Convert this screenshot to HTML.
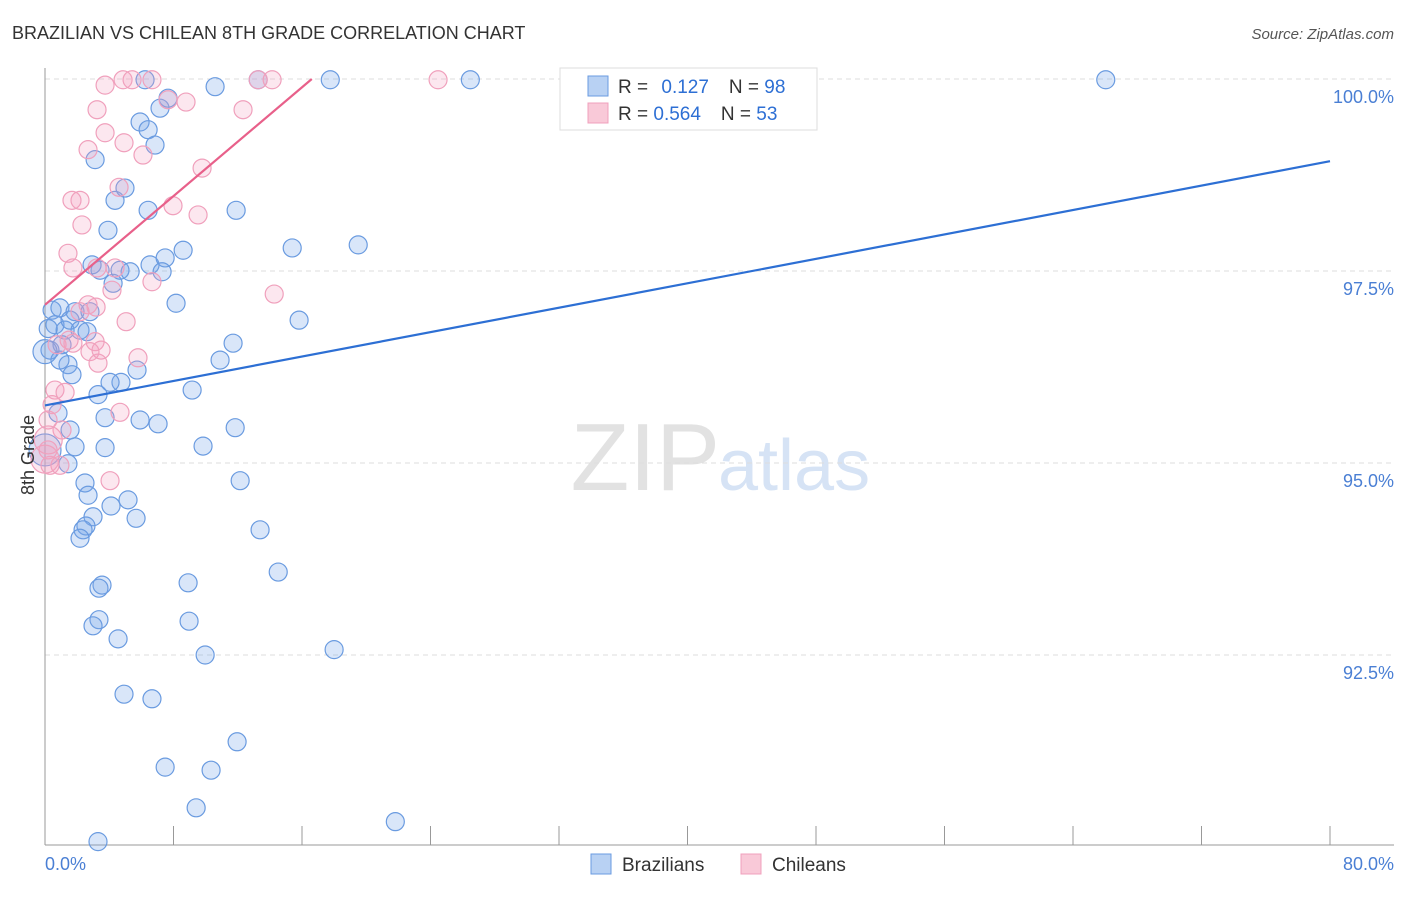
<!DOCTYPE html>
<html><head><meta charset="utf-8"><style>
body{margin:0;background:#fff;font-family:"Liberation Sans",sans-serif;}
svg text{font-family:"Liberation Sans",sans-serif;}
</style></head><body>
<svg id="chart" width="1406" height="892" xmlns="http://www.w3.org/2000/svg">
<text x="12" y="39" font-size="18" fill="#333">BRAZILIAN VS CHILEAN 8TH GRADE CORRELATION CHART</text>
<text x="1394" y="39" font-size="15" fill="#555" font-style="italic" text-anchor="end">Source: ZipAtlas.com</text>
<text x="720" y="490" font-size="96" fill="#e2e2e2" font-family="Liberation Serif" text-anchor="end">ZIP</text>
<text x="718" y="490" font-size="72" fill="#d6e3f5">atlas</text>
<g id="grid"></g><g id="axes"></g><g id="pts"></g><g id="lines"></g>
<text x="34" y="455" font-size="18" fill="#333" transform="rotate(-90 34 455)" text-anchor="middle">8th Grade</text>
<text x="45" y="870" font-size="18" fill="#4a7fd4">0.0%</text>
<text x="1394" y="870" font-size="18" fill="#4a7fd4" text-anchor="end">80.0%</text>
<g>
<rect x="560" y="68" width="257" height="62" fill="#fff" stroke="#ddd"/>
<rect x="588" y="76" width="20" height="20" fill="#b8d1f3" stroke="#6a9be0"/>
<rect x="588" y="103" width="20" height="20" fill="#f9c9d8" stroke="#f0a0bc"/>
<text x="618" y="93" font-size="19" fill="#333">R = <tspan fill="#2d6fd4" dx="8">0.127</tspan><tspan dx="20">N = </tspan><tspan fill="#2d6fd4">98</tspan></text>
<text x="618" y="120" font-size="19" fill="#333">R = <tspan fill="#2d6fd4">0.564</tspan><tspan dx="20">N = </tspan><tspan fill="#2d6fd4">53</tspan></text>
</g>
<g>
<rect x="591" y="854" width="20" height="20" fill="#b8d1f3" stroke="#6a9be0"/>
<text x="622" y="871" font-size="19" fill="#333">Brazilians</text>
<rect x="741" y="854" width="20" height="20" fill="#f9c9d8" stroke="#f0a0bc"/>
<text x="772" y="871" font-size="19" fill="#333">Chileans</text>
</g>
</svg>
<script>
const yTicks=[100,97.5,95,92.5];
const yTickLabels=["100.0%","97.5%","95.0%","92.5%"];
const xTicks=[0,8,16,24,32,40,48,56,64,72,80];
const blueX=[0.44,0.93,0.62,1.25,1.56,1.87,2.18,2.62,0.31,1.06,1.43,1.68,3.12,4.36,3.92,4.67,4.98,5.30,5.92,6.42,6.85,7.16,7.66,6.23,10.59,13.27,17.76,26.48,66.04,6.42,11.90,6.54,7.48,8.60,7.29,8.16,15.39,19.50,15.82,11.71,10.90,5.73,4.73,4.05,3.30,9.16,3.74,5.92,7.04,11.84,9.84,3.74,1.87,1.56,1.43,0.81,0,2.49,2.68,5.17,4.11,5.67,2.99,2.55,2.37,2.18,12.15,13.39,14.52,8.91,3.55,3.36,3.36,2.99,8.97,4.55,9.97,18.00,4.92,6.66,11.96,7.48,10.34,9.41,21.81,3.30,2.80,3.43,4.24,0.93,2.93,0,0.2];
const blueY=[96.99,97.02,96.80,96.73,96.86,96.97,96.73,96.71,96.47,96.54,96.28,96.15,98.95,98.42,98.03,97.51,98.58,97.49,99.44,99.34,99.14,99.62,99.75,99.99,99.90,99.99,99.99,99.99,99.99,98.29,98.29,97.58,97.67,97.77,97.49,97.08,97.80,97.84,96.86,96.56,96.34,96.21,96.05,96.05,95.89,95.95,95.59,95.56,95.51,95.46,95.22,95.20,95.21,95.43,94.99,95.65,95.17,94.74,94.58,94.52,94.44,94.28,94.30,94.18,94.13,94.02,94.77,94.13,93.58,93.44,93.41,93.37,92.96,92.88,92.94,92.71,92.50,92.57,91.99,91.93,91.37,91.04,91.00,90.51,90.33,90.07,96.97,97.51,97.34,96.34,97.58,96.45,96.75];
const blueR=[9,9,9,9,9,9,9,9,9,9,9,9,9,9,9,9,9,9,9,9,9,9,9,9,9,9,9,9,9,9,9,9,9,9,9,9,9,9,9,9,9,9,9,9,9,9,9,9,9,9,9,9,9,9,9,9,16,9,9,9,9,9,9,9,9,9,9,9,9,9,9,9,9,9,9,9,9,9,9,9,9,9,9,9,9,9,9,9,9,9,9,12,9];
const pinkX=[3.74,4.86,5.42,6.66,13.27,14.14,24.47,3.24,7.66,8.78,12.33,3.74,4.92,2.68,6.10,9.78,4.61,1.68,2.18,7.97,9.53,2.30,1.43,1.74,3.24,4.36,6.66,4.17,14.27,2.68,3.18,5.05,2.18,0.75,3.12,1.74,2.80,3.30,5.79,0.62,1.25,0.44,4.67,1.06,0.19,0.31,4.05,0.19,0.93,3.49,0,0.2,1.5];
const pinkY=[99.92,99.99,99.99,99.99,99.99,99.99,99.99,99.60,99.73,99.70,99.60,99.30,99.17,99.08,99.01,98.84,98.59,98.42,98.42,98.35,98.23,98.10,97.73,97.54,97.54,97.54,97.36,97.25,97.20,97.06,97.03,96.84,96.97,96.54,96.58,96.56,96.45,96.30,96.37,95.95,95.92,95.76,95.66,95.43,95.56,94.97,94.77,95.17,94.97,96.47,95.05,95.30,96.6];
const blueLine=[95.75,98.93];
const pinkLine=[97.06,0.177];
const NS="http://www.w3.org/2000/svg";
const X=v=>45+v/80*1285;
const Y=v=>79+(100-v)*76.8;
function mk(tag,attrs,parent){const e=document.createElementNS(NS,tag);for(const k in attrs)e.setAttribute(k,attrs[k]);document.getElementById(parent).appendChild(e);return e;}
yTicks.forEach((t,i)=>{
 const l=mk('line',{x1:45,x2:1394,y1:Y(t),y2:Y(t),stroke:'#ddd','stroke-dasharray':'5,4'},'grid');
 
 
 const tx=mk('text',{x:1394,y:Y(t)+24,'font-size':18,fill:'#4a7fd4','text-anchor':'end'},'grid');
 tx.textContent=yTickLabels[i];
 
 
});
const ax=mk('line',{x1:45,x2:45,y1:68,y2:845,stroke:'#999'},'axes');


const bx=mk('line',{x1:45,x2:1394,y1:845,y2:845,stroke:'#999'},'axes');


xTicks.forEach(t=>{
 const l=mk('line',{x1:X(t),x2:X(t),y1:826,y2:845,stroke:'#999'},'axes');
 
 
});
blueX.forEach((v,i)=>{
 const c=mk('circle',{cx:X(v),cy:Y(blueY[i]),r:blueR[i]||9,fill:'rgba(120,165,235,0.28)',stroke:'#6a9be0','stroke-width':1.2},'pts');
 
 
});
pinkX.forEach((v,i)=>{
 const c=mk('circle',{cx:X(v),cy:Y(pinkY[i]),r:(i>=50&&i<52)?14:9,fill:'rgba(245,160,190,0.25)',stroke:'#f0a0bc','stroke-width':1.2},'pts');
 
 
});
const bl=mk('line',{x1:X(0),y1:Y(blueLine[0]),x2:X(80),y2:Y(blueLine[1]),stroke:'#2d6fd4','stroke-width':2.2},'lines');


const xe=(100-pinkLine[0])/pinkLine[1];
const pl=mk('line',{x1:X(0),y1:Y(pinkLine[0]),x2:X(xe),y2:Y(100),stroke:'#e8608a','stroke-width':2.2},'lines');


</script>
</body></html>
